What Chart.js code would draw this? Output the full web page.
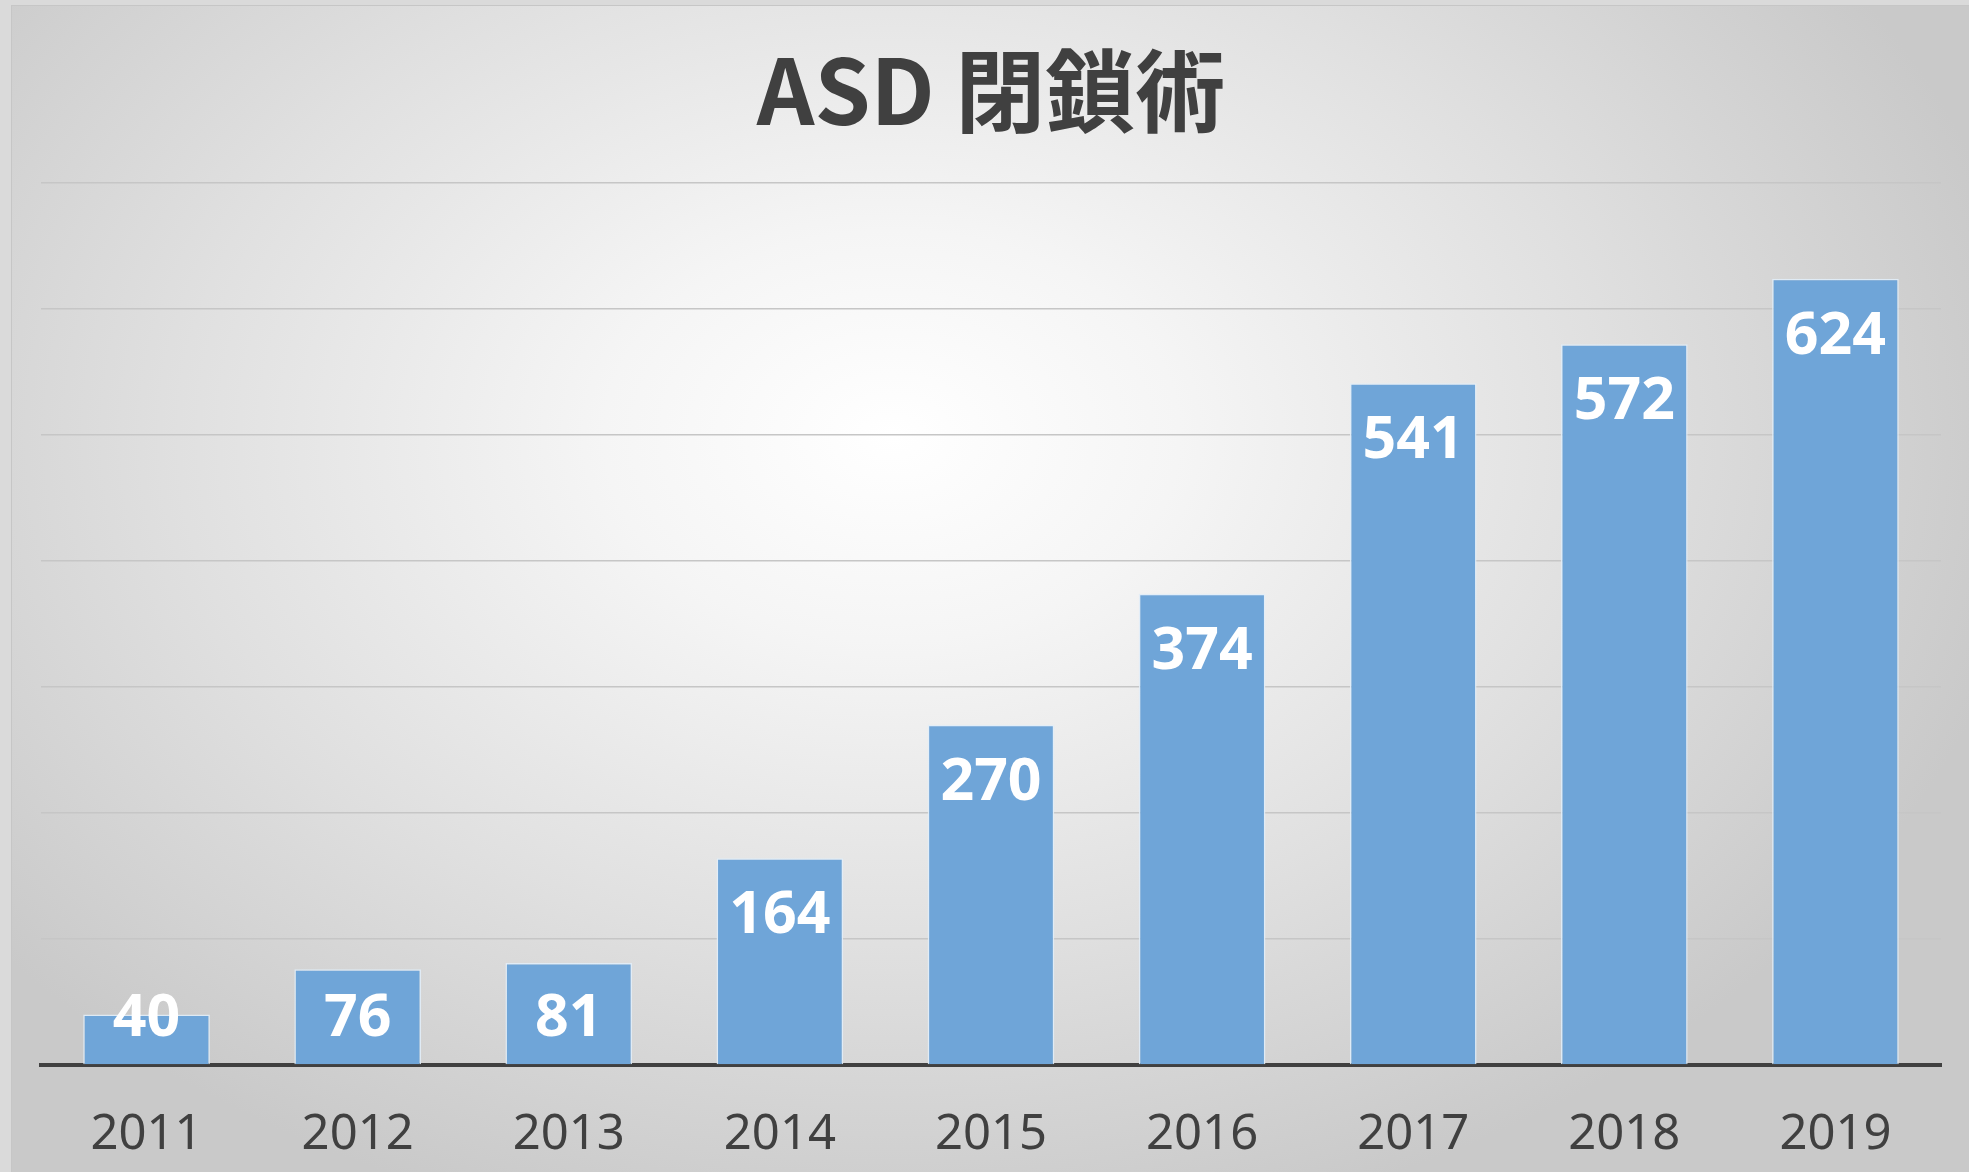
<!DOCTYPE html>
<html>
<head>
<meta charset="utf-8">
<script src="https://cdn.jsdelivr.net/npm/chart.js@4/dist/chart.umd.min.js"></script>
<style>
  html, body { margin: 0; padding: 0; }
  body { width: 1969px; height: 1172px; background: #dadada; position: relative; overflow: hidden; }
  #frame {
    position: absolute; left: 11px; top: 5px; width: 1958px; height: 1167px;
    border-left: 1px solid #c6c6c6; border-top: 1px solid #c6c6c6;
    background: radial-gradient(ellipse 1150px 820px at 880px 430px, #ffffff 0%, #f5f5f5 25%, #e0e0e0 62%, #c9c9c9 100%);
  }
  #chart { position: absolute; left: 0; top: 0; }
</style>
</head>
<body>
<div id="frame"></div>
<canvas id="chart" width="1969" height="1172"></canvas>
<script>
const years = ["2011", "2012", "2013", "2014", "2015", "2016", "2017", "2018", "2019"];
const cases = [40, 76, 81, 164, 270, 374, 541, 572, 624];
const chartTitle = "ASD 閉鎖術";

// white value labels near the top of each bar
const barLabels = {
  id: "barLabels",
  afterDatasetsDraw(chart) {
    const { ctx } = chart;
    const meta = chart.getDatasetMeta(0);
    ctx.save();
    ctx.fillStyle = "#ffffff";
    ctx.font = "bold 59px 'Noto Sans'";
    ctx.textAlign = "center";
    ctx.textBaseline = "middle";
    meta.data.forEach((bar, i) => {
      const y = Math.min(bar.y + 58, bar.base - 45);
      ctx.fillText(String(cases[i]), bar.x, y);
    });
    ctx.restore();
  },
};

new Chart(document.getElementById("chart"), {
  type: "bar",
  data: {
    labels: years,
    datasets: [
      {
        data: cases,
        backgroundColor: "#6fa5d8",
        borderColor: "rgba(225,237,248,0.9)",
        borderWidth: 1.5,
        barPercentage: 0.6,
        categoryPercentage: 1,
      },
    ],
  },
  options: {
    responsive: false,
    animation: false,
    layout: { padding: { left: 41, right: 28, top: 0, bottom: 8 } },
    plugins: {
      legend: { display: false },
      tooltip: { enabled: false },
      title: {
        display: true,
        text: chartTitle,
        color: "#404040",
        font: { family: "'Noto Sans CJK JP'", size: 90, weight: "bold", lineHeight: 1.2 },
        padding: { top: 37, bottom: 38 },
      },
    },
    scales: {
      x: {
        z: 1,
        afterFit: (scale) => { scale.height = 99; },
        grid: { display: false, drawTicks: false },
        border: { display: true, color: "#404040", width: 4 },
        ticks: {
          color: "#404040",
          padding: 41,
          font: { family: "'Noto Sans'", size: 49 },
        },
      },
      y: {
        min: 0,
        max: 700,
        ticks: { display: false, stepSize: 100 },
        grid: { color: "#c6c6c6", lineWidth: 1.5, drawTicks: false },
        border: { display: false },
      },
    },
  },
  plugins: [barLabels],
});
</script>
</body>
</html>
